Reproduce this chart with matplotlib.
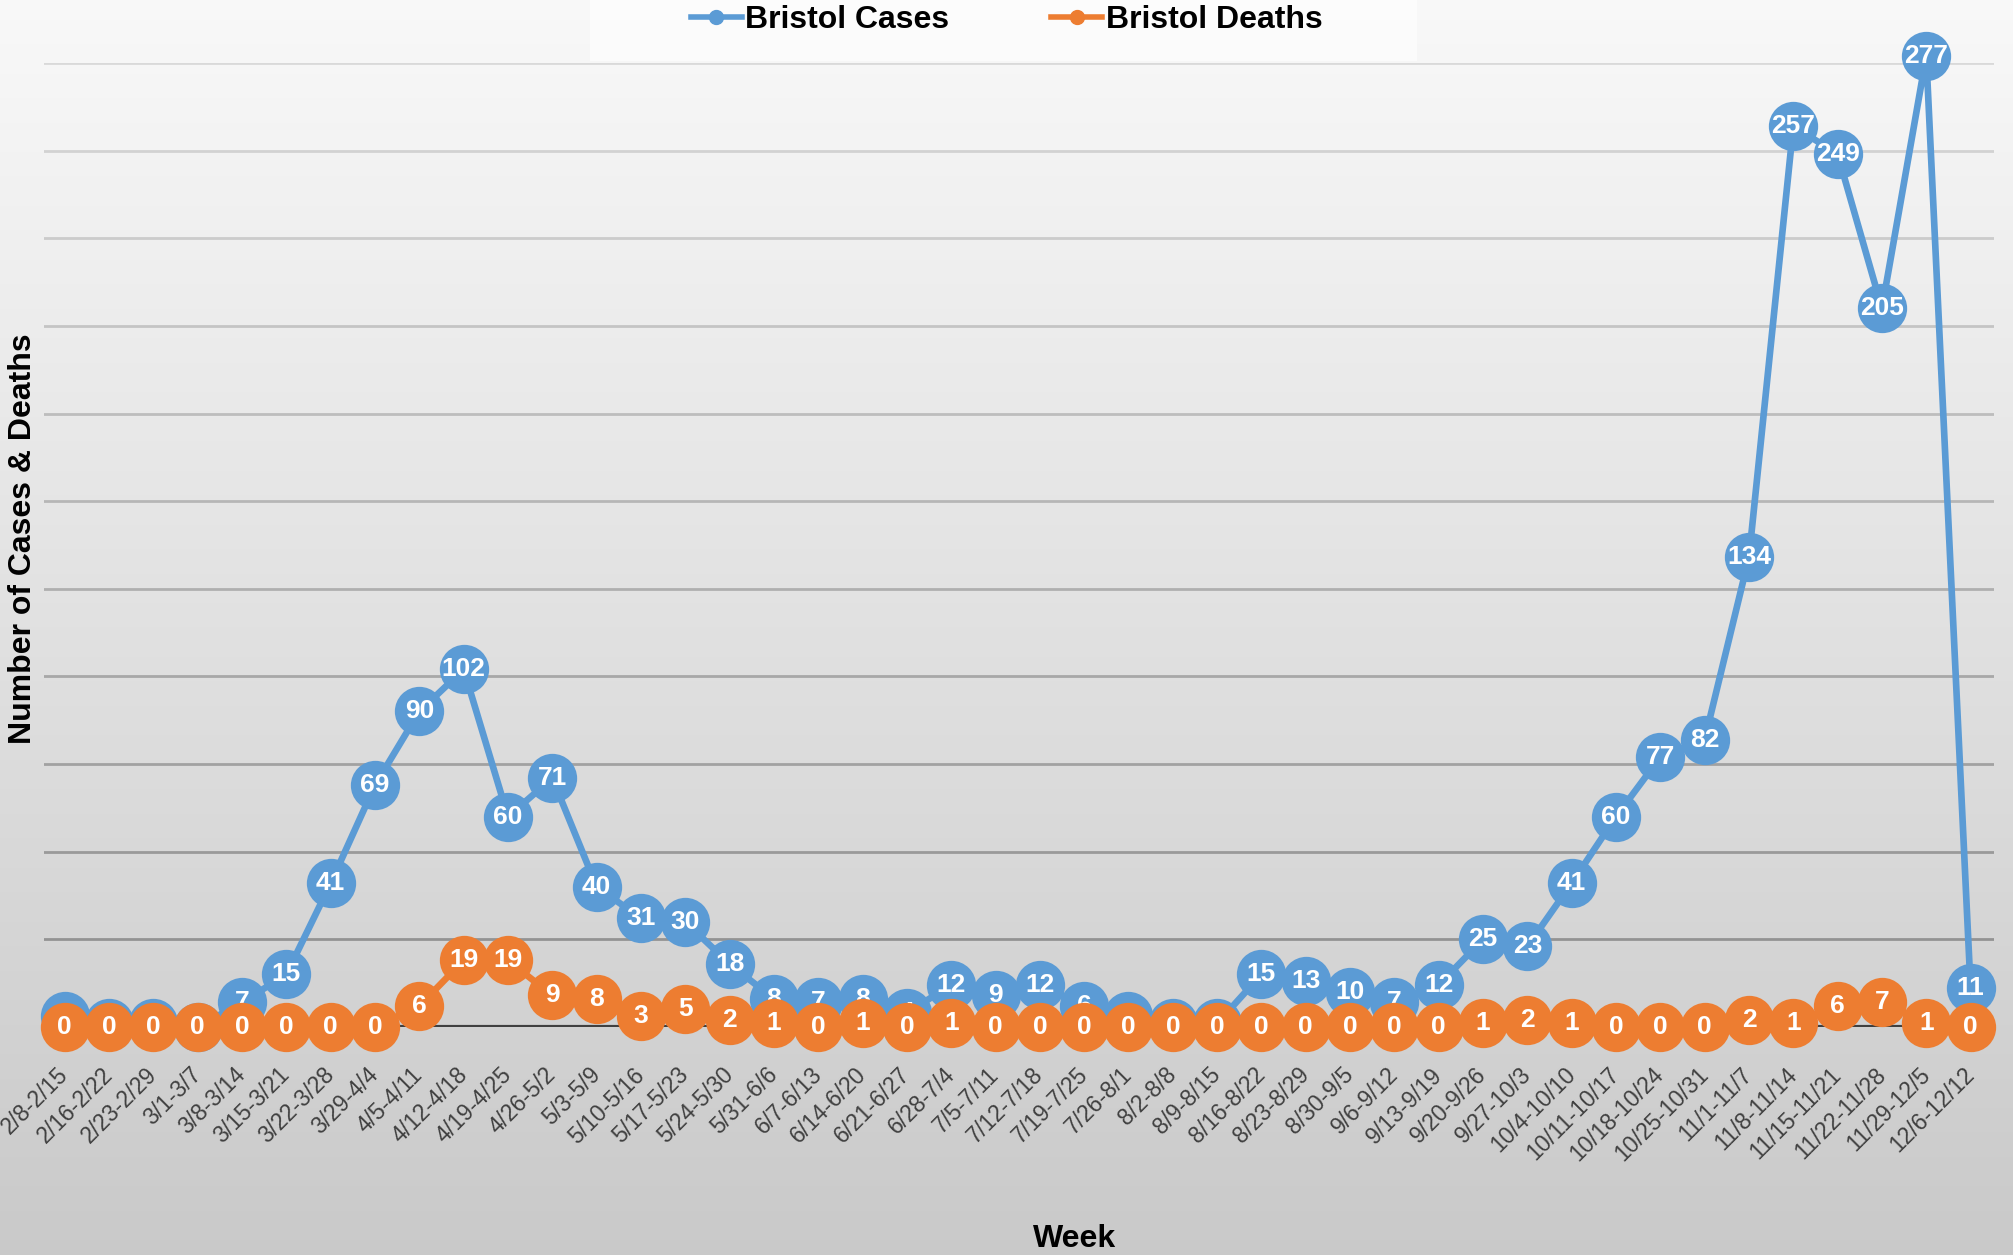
"""
Bristol weekly cases and deaths
"""

import matplotlib.pyplot as plt
from matplotlib.lines import Line2D
from matplotlib.patches import Rectangle
import numpy as np


weeks = [
    "2/8-2/15", "2/16-2/22", "2/23-2/29", "3/1-3/7", "3/8-3/14", "3/15-3/21",
    "3/22-3/28", "3/29-4/4", "4/5-4/11", "4/12-4/18", "4/19-4/25", "4/26-5/2",
    "5/3-5/9", "5/10-5/16", "5/17-5/23", "5/24-5/30", "5/31-6/6", "6/7-6/13",
    "6/14-6/20", "6/21-6/27", "6/28-7/4", "7/5-7/11", "7/12-7/18", "7/19-7/25",
    "7/26-8/1", "8/2-8/8", "8/9-8/15", "8/16-8/22", "8/23-8/29", "8/30-9/5",
    "9/6-9/12", "9/13-9/19", "9/20-9/26", "9/27-10/3", "10/4-10/10", "10/11-10/17",
    "10/18-10/24", "10/25-10/31", "11/1-11/7", "11/8-11/14", "11/15-11/21",
    "11/22-11/28", "11/29-12/5", "12/6-12/12",
]
cases = [3, 1, 1, 0, 7, 15, 41, 69, 90, 102,
         60, 71, 40, 31, 30, 18, 8, 7, 8, 4,
         12, 9, 12, 6, 3, 1, 1, 15, 13, 10,
         7, 12, 25, 23, 41, 60, 77, 82, 134, 257,
         249, 205, 277, 11]
deaths = [0, 0, 0, 0, 0, 0, 0, 0, 6, 19,
          19, 9, 8, 3, 5, 2, 1, 0, 1, 0,
          1, 0, 0, 0, 0, 0, 0, 0, 0, 0,
          0, 0, 1, 2, 1, 0, 0, 0, 2, 1,
          6, 7, 1, 0]
yticks = [0, 25, 50, 75, 100, 125, 150, 175, 200, 225, 250, 275]

col_cases = "#5b9bd5"
col_deaths = "#ed7d31"
lw = 4.8
ms = 35.5
lab_font = ["Liberation Sans"]

fig = plt.figure(figsize=(20.13, 12.55), dpi=100)

# background gradient
bg = fig.add_axes([0, 0, 1, 1], zorder=-10)
grad = np.linspace(0.975, 0.79, 256).reshape(-1, 1)
bg.imshow(np.dstack([grad, grad, grad]), aspect="auto", extent=[0, 1, 0, 1])
bg.axis("off")

ax = fig.add_axes([0.022, 0.1817, 0.9686, 0.7681])
ax.patch.set_alpha(0)

x = np.arange(len(weeks))

ax.plot(x, cases, color=col_cases, linewidth=lw, marker="o", markersize=ms,
        markeredgewidth=0, zorder=3, clip_on=False, solid_capstyle="round")
for xi, v in zip(x, cases):
    ax.text(xi, v, str(v), color="white", fontsize=19, fontweight="bold",
            family=lab_font, ha="center", va="center", zorder=4)

ax.plot(x, deaths, color=col_deaths, linewidth=lw, marker="o", markersize=ms,
        markeredgewidth=0, zorder=5, clip_on=False, solid_capstyle="round")
for xi, v in zip(x, deaths):
    ax.text(xi, v, str(v), color="white", fontsize=19, fontweight="bold",
            family=lab_font, ha="center", va="center", zorder=6)

ax.set_xlim(-0.463, 43.53)
ax.set_ylim(0, 275)
ax.set_yticks(yticks)
ax.set_yticklabels([])
ax.tick_params(axis="y", length=0)
ax.yaxis.grid(True, linewidth=2)
ax.set_axisbelow(True)
# gridlines fade toward the top
for i, gl in enumerate(ax.get_ygridlines()):
    c = 0.55 + 0.3 * i / (len(yticks) - 1)
    gl.set_color((c, c, c))
ax.axhline(0, color="#404040", linewidth=3, zorder=2)

ax.set_xticks(x)
ax.set_xticklabels(weeks, rotation=45, ha="right", va="center",
                   rotation_mode="anchor", fontsize=16.5, color="#404040",
                   family=lab_font)
ax.tick_params(axis="x", length=0, pad=32)

for s in ax.spines.values():
    s.set_visible(False)

fig.text(0.0115, 0.5705, "Number of Cases & Deaths", rotation=90, ha="center",
         va="center", fontsize=23, fontweight="bold", family=lab_font)
fig.text(0.5336, 0.0127, "Week", ha="center", va="center", fontsize=23,
         fontweight="bold", family=lab_font)

# legend
fig.patches.append(Rectangle((0.293, 0.951), 0.411, 0.049, transform=fig.transFigure,
                             facecolor="white", edgecolor="none", alpha=0.6, zorder=0))
handles = [
    Line2D([], [], color=col_cases, linewidth=4, marker="o", markersize=10),
    Line2D([], [], color=col_deaths, linewidth=4, marker="o", markersize=10),
]
fig.legend(handles, ["Bristol Cases", "Bristol Deaths"], loc="center",
           bbox_to_anchor=(0.5, 0.9837), ncol=2, frameon=False,
           handlelength=1.6, handletextpad=0.1, columnspacing=3.2,
           prop={"family": lab_font, "weight": "bold", "size": 23})

fig.savefig("out.png", dpi=100)
